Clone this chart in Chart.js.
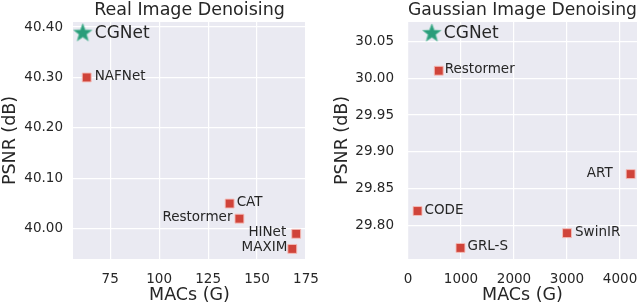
<!doctype html>
<html lang="en">
<head>
    <meta charset="UTF-8">
    <title>Denoising PSNR vs MACs</title>
    <script src="https://cdn.jsdelivr.net/npm/chart.js"></script>
    <style>
        body { margin: 0; background: #fff; }
        .panel { position: absolute; top: 0; width: 320px; height: 306px; }
        #left { left: 0; }
        #right { left: 320px; }
    </style>
</head>
<body>
<div class="panel" id="left"><canvas id="realChart" width="320" height="306"></canvas></div>
<div class="panel" id="right"><canvas id="gaussChart" width="320" height="306"></canvas></div>

<script>
    // Real image denoising
    const realNames = ['NAFNet', 'CAT', 'Restormer', 'HINet', 'MAXIM'];
    const realMacs = [63, 136, 141, 170, 168];
    const realPsnr = [40.30, 40.05, 40.02, 39.99, 39.96];
    const realOursMacs = [61];
    const realOursPsnr = [40.39];
    const realXTicks = [75, 100, 125, 150, 175];
    const realYTicks = [40.00, 40.10, 40.20, 40.30, 40.40];

    // Gaussian image denoising
    const gaussNames = ['Restormer', 'ART', 'CODE', 'SwinIR', 'GRL-S'];
    const gaussMacs = [580, 4200, 180, 3000, 990];
    const gaussPsnr = [30.01, 29.87, 29.82, 29.79, 29.77];
    const gaussOursMacs = [450];
    const gaussOursPsnr = [30.062];
    const gaussXTicks = [0, 1000, 2000, 3000, 4000];
    const gaussYTicks = [29.80, 29.85, 29.90, 29.95, 30.00, 30.05];

    const oursName = 'CGNet';

    const textColor = '#262626';
    const fontFamily = "'DejaVu Sans', sans-serif";

    // filled star marker
    function makeStar(r) {
        const c = document.createElement('canvas');
        const s = Math.ceil(r * 2 + 4);
        c.width = s; c.height = s;
        const g = c.getContext('2d');
        g.beginPath();
        for (let i = 0; i < 10; i++) {
            const rad = i % 2 === 0 ? r : r * 0.42;
            const a = -Math.PI / 2 + i * Math.PI / 5;
            const px = s / 2 + rad * Math.cos(a);
            const py = s / 2 + 1 + rad * Math.sin(a);
            if (i === 0) g.moveTo(px, py); else g.lineTo(px, py);
        }
        g.closePath();
        g.fillStyle = '#2a9d7a';
        g.fill();
        g.lineWidth = 0.8;
        g.strokeStyle = '#5fbc9e';
        g.stroke();
        return c;
    }
    const starImg = makeStar(9.5);

    const plotBg = {
        id: 'plotBg',
        beforeDraw(chart) {
            const a = chart.chartArea;
            const ctx = chart.ctx;
            ctx.save();
            ctx.fillStyle = '#eaeaf2';
            ctx.fillRect(a.left, a.top, a.right - a.left, a.bottom - a.top);
            ctx.restore();
        }
    };

    // point labels: dx offsets (negative = text to the left)
    const pointLabels = {
        id: 'pointLabels',
        afterDatasetsDraw(chart, args, opts) {
            const ctx = chart.ctx;
            ctx.save();
            ctx.fillStyle = textColor;
            ctx.textBaseline = 'middle';
            const meta = chart.getDatasetMeta(0);
            meta.data.forEach((pt, i) => {
                const dx = opts.dx[i];
                ctx.font = '13.5px ' + fontFamily;
                ctx.textAlign = dx < 0 ? 'right' : 'left';
                ctx.fillText(opts.names[i], pt.x + dx, pt.y - 1);
            });
            const star = chart.getDatasetMeta(1).data[0];
            ctx.font = '17px ' + fontFamily;
            ctx.textAlign = 'left';
            ctx.fillText(oursName, star.x + 12, star.y + 1);
            ctx.restore();
        }
    };

    function makeChart(id, cfg) {
        const ticksFont = { family: fontFamily, size: 13.5 };
        const titleFont = { family: fontFamily, size: 17.5 };
        return new Chart(document.getElementById(id), {
            type: 'scatter',
            data: {
                datasets: [{
                    data: cfg.macs.map((m, i) => ({ x: m, y: cfg.psnr[i] })),
                    pointStyle: 'rect',
                    pointRadius: 6.3,
                    backgroundColor: '#d0443a',
                    borderColor: 'rgba(245,190,185,0.9)',
                    borderWidth: 1
                }, {
                    data: cfg.oursMacs.map((m, i) => ({ x: m, y: cfg.oursPsnr[i] })),
                    pointStyle: starImg
                }]
            },
            options: {
                responsive: false,
                animation: false,
                layout: {
                    autoPadding: false,
                    padding: { left: cfg.padLeft, right: cfg.padRight, top: 0, bottom: 0 }
                },
                scales: {
                    x: {
                        type: 'linear',
                        min: cfg.xMin, max: cfg.xMax,
                        afterBuildTicks: s => { s.ticks = cfg.xTicks.map(v => ({ value: v })); },
                        afterFit: s => { s.height = 47; s.paddingLeft = 0; s.paddingRight = 0; },
                        grid: { color: '#ffffff', lineWidth: 1.2, drawTicks: false },
                        border: { display: false },
                        ticks: { color: textColor, font: ticksFont, padding: 12, maxRotation: 0,
                                 callback: v => String(v) },
                        title: { display: true, text: 'MACs (G)', color: textColor, font: titleFont,
                                 padding: { top: 0, bottom: 0 } }
                    },
                    y: {
                        type: 'linear',
                        min: cfg.yMin, max: cfg.yMax,
                        afterBuildTicks: s => { s.ticks = cfg.yTicks.map(v => ({ value: v })); },
                        afterFit: s => { s.width = cfg.yWidth; s.paddingTop = 0; s.paddingBottom = 0; },
                        grid: { color: '#ffffff', lineWidth: 1.2, drawTicks: false },
                        border: { display: false },
                        ticks: { color: textColor, font: ticksFont, padding: cfg.yPad,
                                 callback: v => v.toFixed(2) },
                        title: { display: true, text: 'PSNR (dB)', color: textColor, font: titleFont,
                                 padding: { top: 0, bottom: 0 } }
                    }
                },
                plugins: {
                    legend: { display: false },
                    tooltip: { enabled: false },
                    title: {
                        display: true, text: cfg.title, color: textColor, fullSize: false,
                        font: { family: fontFamily, size: 17.5, weight: 'normal' },
                        padding: { top: 0, bottom: 1 }
                    },
                    pointLabels: { names: cfg.names, dx: cfg.dx }
                }
            },
            plugins: [plotBg, pointLabels]
        });
    }

    makeChart('realChart', {
        title: 'Real Image Denoising',
        names: realNames, macs: realMacs, psnr: realPsnr,
        oursMacs: realOursMacs, oursPsnr: realOursPsnr,
        xTicks: realXTicks, yTicks: realYTicks,
        xMin: 56, xMax: 175, yMin: 39.94, yMax: 40.41,
        padLeft: 0, padRight: 14, yWidth: 73, yPad: 10,
        dx: [8, 7, -7, -10, -5]
    });

    makeChart('gaussChart', {
        title: 'Gaussian Image Denoising',
        names: gaussNames, macs: gaussMacs, psnr: gaussPsnr,
        oursMacs: gaussOursMacs, oursPsnr: gaussOursPsnr,
        xTicks: gaussXTicks, yTicks: gaussYTicks,
        xMin: 0, xMax: 4320, yMin: 29.755, yMax: 30.076,
        padLeft: 12, padRight: 3, yWidth: 76, yPad: 14,
        dx: [6, -18, 7, 8, 7]
    });
</script>
</body>
</html>
